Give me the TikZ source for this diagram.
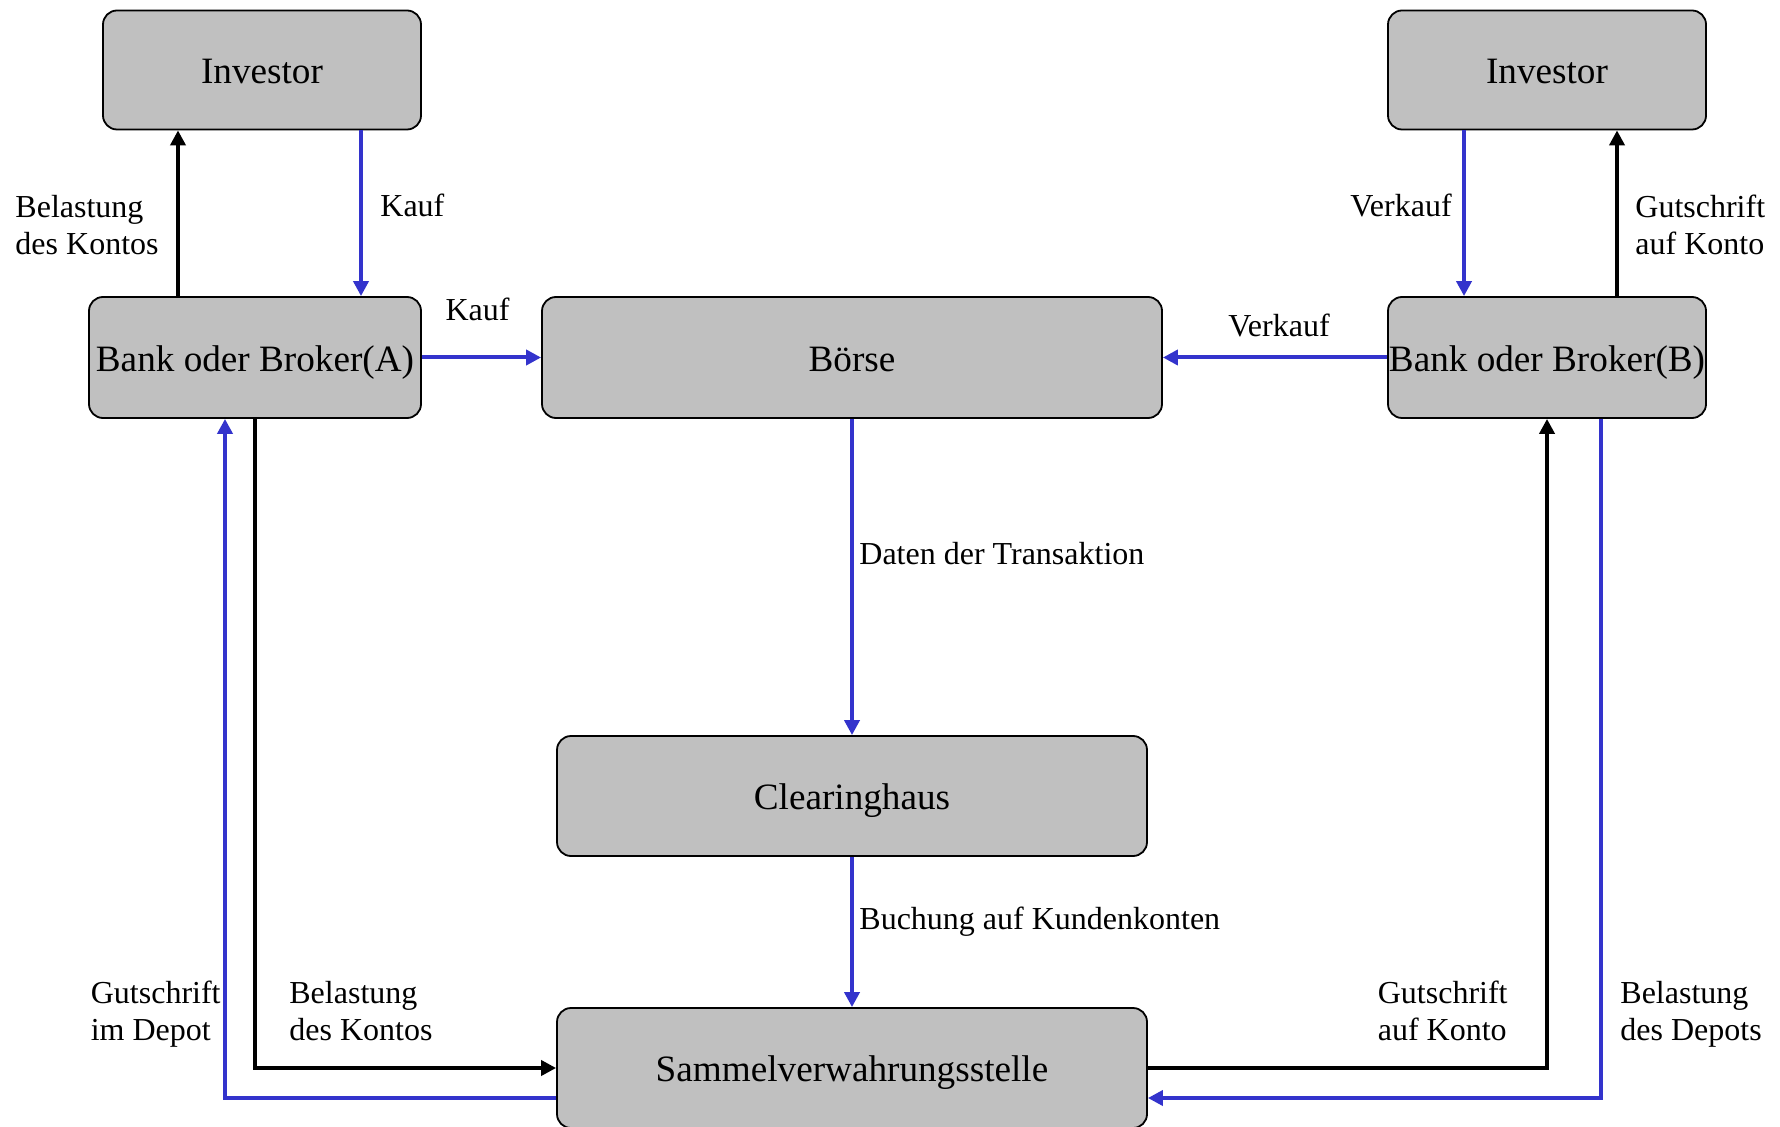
\documentclass[tikz,border=0pt]{standalone}
\usepackage{fontspec}
\setmainfont{Liberation Serif}
\usetikzlibrary{arrows.meta,calc,positioning}
\definecolor{fsBlue}{HTML}{3333CC}
\definecolor{fsGray}{HTML}{C0C0C0}
\newcommand{\snug}[1]{\makebox[0pt]{#1}}
\tikzset{
 settle/.style={line join=miter,line cap=butt},
 box/.style={rectangle,rounded corners=7pt,draw=black,fill=fsGray,line width=.9pt,
   font=\fontsize{18.6}{22}\selectfont,inner sep=0pt,text height=13.8pt,text depth=0pt},
 investor/.style={box,minimum width=159pt,minimum height=59.5pt},
 bank/.style={box,minimum width=166pt,minimum height=60.5pt},
 tightbank/.style={box,minimum width=159pt,minimum height=60.5pt},
 market/.style={box,minimum width=310pt,minimum height=60.5pt},
 central/.style={box,minimum width=295pt,minimum height=60pt},
 money/.style={draw=black,line width=2pt,-{Triangle[length=7.5pt,width=7.5pt]}},
 paper/.style={draw=fsBlue,line width=2pt,-{Triangle[length=7.5pt,width=7.5pt]}},
 lbl/.style={font=\fontsize{16}{18.7}\selectfont,align=left,inner sep=0pt}
}

\begin{document}
\begin{tikzpicture}[settle,x=.5pt,y=-.5pt]
 \useasboundingbox (0,0) rectangle (1780,1127);
 % boxes
 \node[investor] (invA) at (262,70) {Investor};
 \node[investor] (invB) at (1547,70) {Investor};
 \node[bank] (bankA) at (255,357.5) {Bank oder Broker(A)};
 \node[market] (boerse) at (852,357.5) {Börse};
 \node[tightbank] (bankB) at (1547,357.5) {\snug{Bank oder Broker(B)}};
 \node[central] (clear) at (852,796) {Clearinghaus};
 \node[central] (sammel) at (852,1068) {Sammelverwahrungsstelle};
 % lanes of the connectors
 \coordinate (aMoney) at (178,0); \coordinate (aPaper) at (361,0);
 \coordinate (bPaper) at (1464,0); \coordinate (bMoney) at (1617,0);
 \coordinate (aBack) at (225,1098); \coordinate (bBack) at (1601,1098);
 % top
 \draw[money] (bankA.north -| aMoney) -- (invA.south -| aMoney);
 \draw[paper] (invA.south -| aPaper) -- (bankA.north -| aPaper);
 \draw[paper] (invB.south -| bPaper) -- (bankB.north -| bPaper);
 \draw[money] (bankB.north -| bMoney) -- (invB.south -| bMoney);
 \draw[paper] (bankA.east) -- node[lbl,midway,above=17.5pt,xshift=-2pt] {Kauf} (boerse.west);
 \draw[paper] (bankB.west) -- node[lbl,midway,above=9.5pt,xshift=2pt] {Verkauf} (boerse.east);
 % middle
 \draw[paper] (boerse) -- (clear);
 \draw[paper] (clear) -- (sammel);
 % bottom
 \draw[money] (bankA.south) |- (sammel.west);
 \draw[paper] (sammel.west |- aBack) -| (bankA.south -| aBack);
 \draw[money] (sammel.east) -| (bankB.south);
 \draw[paper] (bankB.south -| bBack) |- (sammel.east |- bBack);
 % labels
 \node[lbl,anchor=east] (lBelA) at (159,225) {Belastung\\des Kontos};
 \node[lbl,anchor=west] (lKauf) at (380,205) {Kauf};
 \node[lbl,anchor=east] (lVerk) at (1452,205) {Verkauf};
 \node[lbl,anchor=west] (lGutB) at (1635,225) {Gutschrift\\auf Konto};
 \node[lbl,anchor=west] (lDaten) at (859,554) {Daten der Transaktion};
 \node[lbl,anchor=west] (lBuch) at (859,922) {Buchung auf Kundenkonten};
 \node[lbl,anchor=east] (lGutDep) at (221,1014) {Gutschrift\\im Depot};
 \node[lbl,anchor=west] (lBelKto) at (289,1011) {Belastung\\des Kontos};
 \node[lbl,anchor=east] (lGutKto) at (1508,1011) {Gutschrift\\auf Konto};
 \node[lbl,anchor=west] (lBelDep) at (1620,1014) {Belastung\\des Depots};
\end{tikzpicture}
\end{document}
